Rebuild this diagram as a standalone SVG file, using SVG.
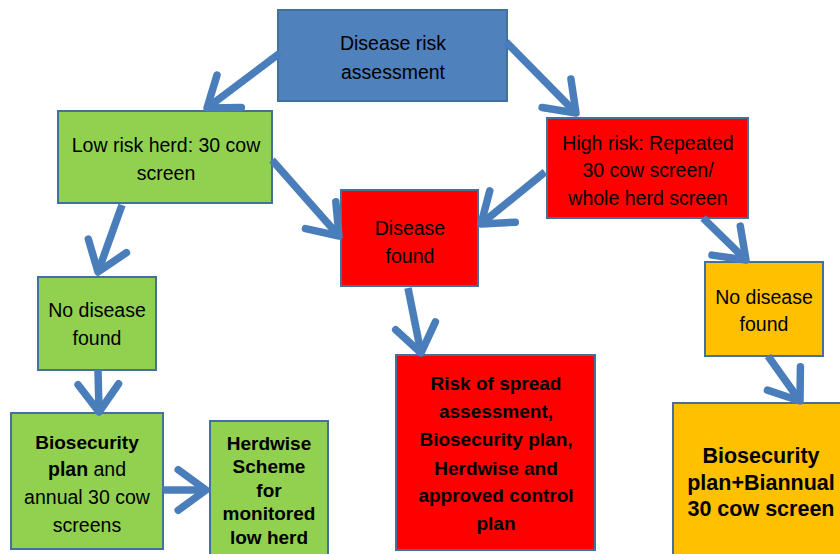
<svg xmlns="http://www.w3.org/2000/svg" width="840" height="554" viewBox="0 0 840 554">
<style>
.box{stroke:#41719c;stroke-width:2}
.blue{fill:#4f81bd}
.green{fill:#92d050}
.red{fill:#ff0000}
.orange{fill:#ffc000}
text{font-family:"Liberation Sans",Arial,sans-serif;font-size:19.5px;fill:#000;text-anchor:middle}
.b{font-weight:bold;font-size:19px}
.big{font-weight:bold;font-size:21.5px}
.conn{fill:none;stroke:#4a7ebb;stroke-width:7.5;marker-end:url(#ah)}
</style>
<defs>
<marker id="ah" markerUnits="strokeWidth" markerWidth="6" markerHeight="8" viewBox="-5 -4 6 8" refX="0" refY="0" orient="auto" overflow="visible">
<path d="M-3.7,-2.7 L0,0 L-3.7,2.7" fill="none" stroke="#4a7ebb" stroke-width="1" stroke-linecap="round" stroke-linejoin="round"/>
</marker>
</defs>
<rect width="840" height="554" fill="#fff"/>
<g id="n-assess"><rect class="box blue" x="278" y="10" width="229" height="91"/><text x="393" y="50">Disease risk</text><text x="393" y="79">assessment</text></g>
<g id="n-low"><rect class="box green" x="58" y="111" width="214" height="92"/><text x="166" y="152">Low risk herd: 30 cow</text><text x="166" y="180">screen</text></g>
<g id="n-found"><rect class="box red" x="341" y="190" width="137" height="96"/><text x="410" y="235">Disease</text><text x="410" y="263">found</text></g>
<g id="n-high"><rect class="box red" x="547" y="118" width="201" height="100"/><text x="648" y="150">High risk: Repeated</text><text x="648" y="177">30 cow screen/</text><text x="648" y="205">whole herd screen</text></g>
<g id="n-nodis-r"><rect class="box orange" x="705" y="262" width="118" height="94"/><text x="764" y="304">No disease</text><text x="764" y="331">found</text></g>
<g id="n-nodis-l"><rect class="box green" x="38" y="277" width="118" height="93"/><text x="97" y="317">No disease</text><text x="97" y="345">found</text></g>
<g id="n-bio-annual"><rect class="box green" x="11" y="413" width="152" height="136"/><text x="87" y="449" class="b">Biosecurity</text><text x="87" y="476"><tspan font-weight="bold">plan</tspan> and</text><text x="87" y="504">annual 30 cow</text><text x="87" y="532">screens</text></g>
<g id="n-herdwise"><rect class="box green" x="210" y="421" width="118" height="140"/><text x="269" y="450" class="b">Herdwise</text><text x="269" y="473" class="b">Scheme</text><text x="269" y="497" class="b">for</text><text x="269" y="520" class="b">monitored</text><text x="269" y="544" class="b">low herd</text></g>
<g id="n-spread"><rect class="box red" x="396" y="355" width="199" height="195"/><text x="496" y="390" class="b">Risk of spread</text><text x="496" y="418" class="b">assessment,</text><text x="496" y="446" class="b">Biosecurity plan,</text><text x="496" y="475" class="b">Herdwise and</text><text x="496" y="502" class="b">approved control</text><text x="496" y="530" class="b">plan</text></g>
<g id="n-bio-biannual"><rect class="box orange" x="673" y="403" width="180" height="160"/><text x="761" y="463" class="big">Biosecurity</text><text x="761" y="490" class="big">plan+Biannual</text><text x="761" y="516" class="big">30 cow screen</text></g>
<g id="connectors">
<path class="conn" d="M280,53 L207,108"/>
<path class="conn" d="M506,42 L576,113"/>
<path class="conn" d="M272,160 L339,236"/>
<path class="conn" d="M545,172 L481,224"/>
<path class="conn" d="M703,218 L746,260"/>
<path class="conn" d="M122,205 L98,272"/>
<path class="conn" d="M98,370 L99,412"/>
<path class="conn" d="M408,288 L421,353"/>
<path class="conn" d="M768,356 L800,401"/>
<path class="conn" d="M163,490 L206,490"/>
</g>
</svg>
